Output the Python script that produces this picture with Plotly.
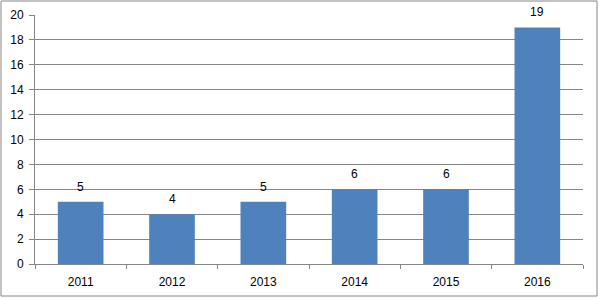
import plotly.graph_objects as go

years = ["2011", "2012", "2013", "2014", "2015", "2016"]
counts = [5, 4, 5, 6, 6, 19]
y_ticks = [0, 2, 4, 6, 8, 10, 12, 14, 16, 18, 20]

W, H = 599, 299
L, R, T, B = 35, 16, 15, 35
pw, ph = W - L - R, H - T - B

fig = go.Figure(go.Bar(
    x=years, y=counts, marker=dict(color="#4F81BD", line=dict(width=0)),
    width=0.5, cliponaxis=False, hoverinfo="skip",
))

annotations = [dict(x=i, y=v, xref="x", yref="y", text=str(v), showarrow=False,
                    yanchor="middle", yshift=15,
                    font=dict(family="Liberation Sans", size=12, color="#000000"))
               for i, v in enumerate(counts)]

fig.update_layout(
    width=W, height=H, margin=dict(l=L, r=R, t=T, b=B, autoexpand=False),
    paper_bgcolor="white", plot_bgcolor="white", showlegend=False,
    font=dict(family="Liberation Sans", size=12, color="#000000"),
    xaxis=dict(type="category", categoryorder="array", categoryarray=years,
               range=[-0.5, len(years) - 0.5],
               showline=True, linecolor="#868686", linewidth=1, ticks="outside",
               tickson="boundaries", ticklen=4, tickcolor="#868686", showgrid=False,
               tickfont=dict(size=12), automargin=False, ticklabelstandoff=7),
    yaxis=dict(range=[0, 20], tickvals=y_ticks, showline=True, linecolor="#868686",
               linewidth=1, ticks="outside", ticklen=5, tickcolor="#868686",
               showgrid=True, gridcolor="#868686", gridwidth=1, zeroline=False,
               tickfont=dict(size=12), automargin=False, ticklabelstandoff=3),
    annotations=annotations,
    shapes=[dict(type="rect", xref="paper", yref="paper",
                 x0=(1 - L) / pw, x1=(597 - L) / pw,
                 y0=(T + ph - 296) / ph, y1=(T + ph - 1) / ph,
                 line=dict(color="#868686", width=1), fillcolor="rgba(0,0,0,0)")],
)
fig.write_html("out.html", config={"displayModeBar": False},
               post_script="document.body.style.margin='0';document.body.style.overflow='hidden';")
